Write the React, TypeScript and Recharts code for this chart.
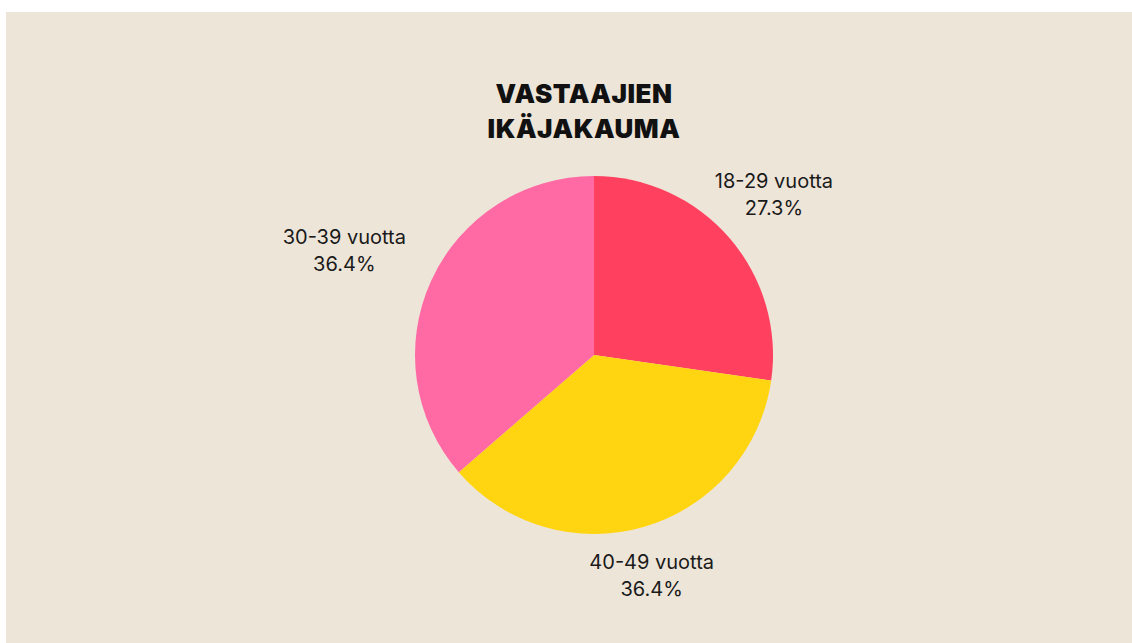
import { PieChart, Pie, Cell } from "recharts";

const ageGroups = ["18-29 vuotta", "40-49 vuotta", "30-39 vuotta"];
const shares = [27.3, 36.4, 36.4];
const sliceColors = ["#FF405F", "#FFD410", "#FF6AA5"];
const titleLines = ["VASTAAJIEN", "IKÄJAKAUMA"];

const data = ageGroups.map((name, i) => ({ name, value: shares[i] }));

const RADIAN = Math.PI / 180;

// label block sits just outside the slice, pushed away along the mid angle
function renderLabel(props: any) {
  const { cx, cy, midAngle, outerRadius, payload } = props;
  const ux = Math.cos(-midAngle * RADIAN);
  const uy = Math.sin(-midAngle * RADIAN);
  const r = outerRadius + 22;
  const bx = cx + r * ux + 57 * ux - 15;
  const by = cy + r * uy + 35 * uy - 6;
  return (
    <text
      x={bx}
      y={by}
      textAnchor="middle"
      fill="#1a1a1a"
      fontFamily="Inter, 'Noto Sans', sans-serif"
      fontSize={20}
    >
      <tspan x={bx} y={by - 13.5} dominantBaseline="central">
        {payload.name}
      </tspan>
      <tspan x={bx} y={by + 13.5} dominantBaseline="central">
        {payload.value.toFixed(1)}%
      </tspan>
    </text>
  );
}

export default function App() {
  return (
    <div
      style={{
        position: "absolute",
        left: 6,
        top: 12,
        width: 1126,
        height: 631,
        background: "#EEE5D9",
      }}
    >
      <div
        style={{
          position: "absolute",
          left: 428,
          top: 64,
          width: 300,
          textAlign: "center",
          fontFamily: "Inter, 'Noto Sans', sans-serif",
          fontWeight: 900,
          fontSize: 26,
          lineHeight: "35px",
          color: "#111",
          letterSpacing: 0.5,
        }}
      >
        {titleLines.map((t) => (
          <div key={t}>{t}</div>
        ))}
      </div>
      <PieChart
        width={1126}
        height={631}
        margin={{ top: 0, right: 0, bottom: 0, left: 0 }}
        style={{ position: "absolute", left: 0, top: 0 }}
      >
        <Pie
          data={data}
          dataKey="value"
          nameKey="name"
          cx={588}
          cy={343}
          outerRadius={179}
          startAngle={90}
          endAngle={-270}
          stroke="none"
          labelLine={false}
          label={renderLabel}
          isAnimationActive={false}
        >
          {data.map((d, i) => (
            <Cell key={d.name} fill={sliceColors[i]} />
          ))}
        </Pie>
      </PieChart>
    </div>
  );
}
